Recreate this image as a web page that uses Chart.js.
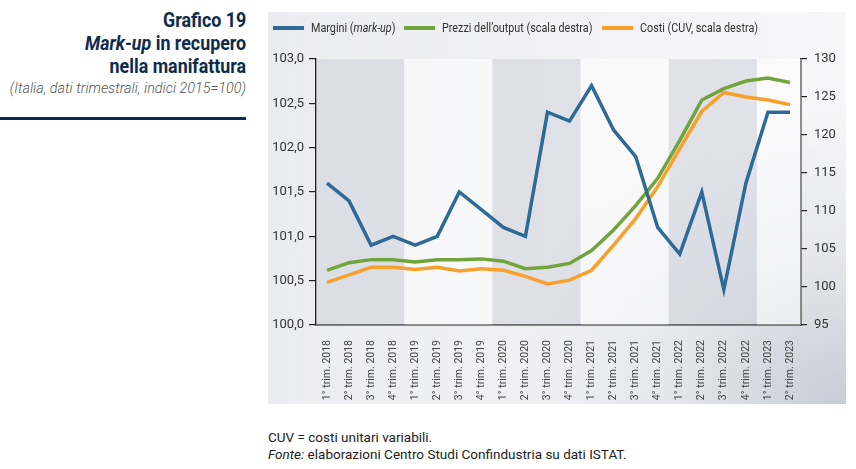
<!DOCTYPE html>
<html lang="it">
<head>
<meta charset="utf-8">
<script src="https://cdn.jsdelivr.net/npm/chart.js@4.4.1/dist/chart.umd.min.js"></script>
<style>
  html, body { margin: 0; padding: 0; background: #fff; }
  body { width: 856px; height: 469px; position: relative; overflow: hidden; font-family: Roboto, sans-serif; }
  .narrow { font-family: 'Liberation Sans Narrow', 'Roboto', sans-serif; }
  #title { position: absolute; right: 610px; top: 9px; text-align: right; color: #0e2b4e; font-weight: bold; font-size: 20.5px; line-height: 23px; transform: scaleX(0.87); transform-origin: right top; white-space: nowrap; }
  #subtitle { position: absolute; right: 610px; top: 80px; font-style: italic; font-weight: 300; color: #555; font-size: 14.4px; white-space: nowrap; }
  #rule { position: absolute; left: 0; top: 117px; width: 246px; height: 3px; background: #0e2b4e; }
  #panel {
    position: absolute; left: 268px; top: 12px; width: 578px; height: 392px;
    background:
      radial-gradient(ellipse 70% 90% at 100% 100%, rgba(190,196,208,0.85) 0%, rgba(215,218,226,0.5) 45%, rgba(235,236,240,0) 85%),
      linear-gradient(to right, #ebecef 0%, #f3f3f5 60%, #f7f7f9 100%);
  }
  #chartWrap { position: absolute; left: 268px; top: 12px; width: 578px; height: 392px; }
  #legend { position: absolute; left: 273px; top: 19px; height: 18px; font-size: 13px; color: #333; }
  .item { position: absolute; top: 0; white-space: nowrap; line-height: 18px; }
  .item .swatch { position: absolute; top: 7px; width: 31px; height: 4px; }
  .item .lab { position: absolute; white-space: nowrap; transform: scaleX(0.83); transform-origin: left center; }
  #notes { position: absolute; left: 268px; top: 429px; font-size: 13.5px; color: #222; line-height: 17px; }
</style>
</head>
<body>
<div id="title" class="narrow">Grafico 19<br><i>Mark-up</i> in recupero<br>nella manifattura</div>
<div id="subtitle">(Italia, dati trimestrali, indici 2015=100)</div>
<div id="rule"></div>
<div id="panel"></div>
<div id="chartWrap"><canvas id="chart" width="578" height="392"></canvas></div>
<div id="legend" class="narrow">
  <div class="item" style="left:0"><span class="swatch" style="left:0;background:#2d6a97"></span><span class="lab" style="left:38px">Margini (<i>mark-up</i>)</span></div>
  <div class="item" style="left:131px"><span class="swatch" style="left:0;background:#70a53c"></span><span class="lab" style="left:38px">Prezzi dell’output (scala destra)</span></div>
  <div class="item" style="left:329px"><span class="swatch" style="left:0;background:#f8a02c"></span><span class="lab" style="left:38px">Costi (CUV, scala destra)</span></div>
</div>
<div id="notes">CUV = costi unitari variabili.<br><i>Fonte:</i> elaborazioni Centro Studi Confindustria su dati ISTAT.</div>

<script>
  const quarters = [
    '1° trim. 2018', '2° trim. 2018', '3° trim. 2018', '4° trim. 2018',
    '1° trim. 2019', '2° trim. 2019', '3° trim. 2019', '4° trim. 2019',
    '1° trim. 2020', '2° trim. 2020', '3° trim. 2020', '4° trim. 2020',
    '1° trim. 2021', '2° trim. 2021', '3° trim. 2021', '4° trim. 2021',
    '1° trim. 2022', '2° trim. 2022', '3° trim. 2022', '4° trim. 2022',
    '1° trim. 2023', '2° trim. 2023'
  ];
  // margini, scala sinistra
  const margini = [101.6, 101.4, 100.9, 101.0, 100.9, 101.0, 101.5, 101.3, 101.1, 101.0, 102.4, 102.3,
                   102.7, 102.2, 101.9, 101.1, 100.8, 101.5, 100.4, 101.6, 102.4, 102.4];
  // prezzi e costi, scala destra
  const prezzi = [102.2, 103.2, 103.6, 103.6, 103.3, 103.6, 103.6, 103.7, 103.4, 102.4, 102.6, 103.1,
                  104.8, 107.5, 110.7, 114.3, 119.3, 124.6, 126.1, 127.1, 127.5, 126.9];
  const costi = [100.6, 101.6, 102.6, 102.6, 102.3, 102.6, 102.1, 102.4, 102.2, 101.4, 100.4, 100.9,
                 102.2, 105.5, 109.0, 113.2, 118.2, 123.1, 125.6, 125.0, 124.6, 124.0];
  const leftTicks = { min: 100, max: 103, step: 0.5 };
  const rightTicks = { min: 95, max: 130, step: 5 };
  const shadedYears = ['2018', '2020', '2022'];

  const axisColor = '#1e1e1e';
  const tickFont = { family: "'Liberation Sans Narrow', Roboto, sans-serif", size: 13 };

  // bande alternate per anno
  const yearBands = {
    id: 'yearBands',
    beforeDatasetsDraw(chart) {
      const { ctx, chartArea, scales: { x } } = chart;
      const half = (x.getPixelForValue(1) - x.getPixelForValue(0)) / 2;
      ctx.save();
      for (let i = 0; i < quarters.length; i += 4) {
        const year = quarters[i].slice(-4);
        const last = Math.min(i + 3, quarters.length - 1);
        const left = x.getPixelForValue(i) - half;
        const right = Math.min(x.getPixelForValue(last) + half, chartArea.right);
        ctx.fillStyle = shadedYears.includes(year) ? 'rgba(200,203,214,0.45)' : 'rgba(255,255,255,0.5)';
        ctx.fillRect(left, chartArea.top, right - left, chartArea.bottom - chartArea.top);
      }
      ctx.restore();
    }
  };

  function line(label, data, color, axis) {
    return {
      label, data, yAxisID: axis,
      borderColor: color, backgroundColor: color,
      borderWidth: 3.5, pointRadius: 0, tension: 0, fill: false
    };
  }

  new Chart(document.getElementById('chart'), {
    type: 'line',
    data: {
      labels: quarters,
      datasets: [
        line('Margini (mark-up)', margini, '#2d6a97', 'y'),
        line('Prezzi dell’output (scala destra)', prezzi, '#70a53c', 'y1'),
        line('Costi (CUV, scala destra)', costi, '#f8a02c', 'y1')
      ]
    },
    options: {
      responsive: false,
      animation: false,
      layout: { padding: { top: 47, left: 0, right: 0, bottom: 0 } },
      plugins: { legend: { display: false }, tooltip: { enabled: false } },
      scales: {
        x: {
          offset: true,
          grid: { display: false },
          border: { display: true, color: axisColor, width: 1.5 },
          ticks: { color: '#444', font: { ...tickFont, size: 10.5 }, minRotation: 90, maxRotation: 90, autoSkip: false, padding: 7 },
          afterFit(scale) { scale.height = 79; }
        },
        y: {
          position: 'left',
          min: leftTicks.min, max: leftTicks.max,
          grid: { drawOnChartArea: false, drawTicks: true, tickLength: 7, color: axisColor, lineWidth: 1.2 },
          border: { display: true, color: axisColor, width: 1.5 },
          ticks: {
            stepSize: leftTicks.step, color: '#333', font: tickFont, padding: 5,
            callback: v => v.toFixed(1).replace('.', ',')
          },
          afterFit(scale) { scale.width = 48; }
        },
        y1: {
          position: 'right',
          min: rightTicks.min, max: rightTicks.max,
          grid: { drawOnChartArea: false, drawTicks: true, tickLength: 6, color: axisColor, lineWidth: 1.2 },
          border: { display: true, color: axisColor, width: 1.5 },
          ticks: { stepSize: rightTicks.step, color: '#333', font: tickFont, padding: 7 },
          afterFit(scale) { scale.width = 45; }
        }
      }
    },
    plugins: [yearBands]
  });
</script>
</body>
</html>
